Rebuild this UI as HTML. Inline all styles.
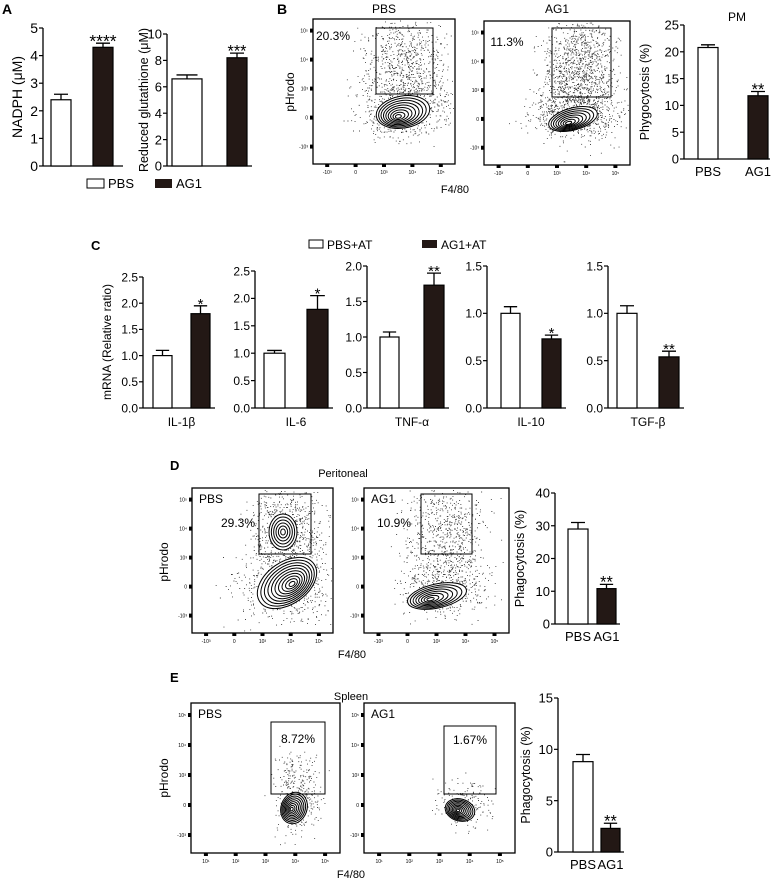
<!DOCTYPE html>
<html><head><meta charset="utf-8"><style>
body{margin:0;background:#fff}
svg{display:block;font-family:"Liberation Sans",sans-serif}
</style></head><body>
<svg id="fig" width="780" height="884" viewBox="0 0 780 884" xmlns="http://www.w3.org/2000/svg">
<g id="static" fill="#000">
<text x="2" y="14" font-size="14" font-weight="bold">A</text>
<text x="277" y="14" font-size="14" font-weight="bold">B</text>
<text x="91" y="250" font-size="13" font-weight="bold">C</text>
<text x="170" y="470" font-size="13" font-weight="bold">D</text>
<text x="170" y="682" font-size="13" font-weight="bold">E</text>
<g>
<rect x="87" y="179" width="17" height="9" fill="#fff" stroke="#000" stroke-width="1"/>
<text x="108" y="188" font-size="13">PBS</text>
<rect x="155" y="179" width="17" height="9" fill="#231815"/>
<text x="176" y="188" font-size="13">AG1</text>
</g>
<g>
<rect x="309" y="240" width="14" height="8" fill="#fff" stroke="#000"/>
<text x="327" y="249" font-size="12">PBS+AT</text>
<rect x="422" y="240" width="15" height="8" fill="#231815"/>
<text x="441" y="249" font-size="12">AG1+AT</text>
</g>
<text x="384" y="13" font-size="12" text-anchor="middle">PBS</text>
<text x="557" y="13" font-size="12" text-anchor="middle">AG1</text>
<text x="737" y="21" font-size="12" text-anchor="middle">PM</text>
<text x="455" y="193" font-size="11" text-anchor="middle">F4/80</text>
<text transform="translate(294,92) rotate(-90)" font-size="12" text-anchor="middle">pHrodo</text>
<text x="343" y="477" font-size="11" text-anchor="middle">Peritoneal</text>
<text x="352" y="658" font-size="11" text-anchor="middle">F4/80</text>
<text transform="translate(168,562) rotate(-90)" font-size="12" text-anchor="middle">pHrodo</text>
<text x="351" y="700" font-size="11" text-anchor="middle">Spleen</text>
<text x="351" y="878" font-size="11" text-anchor="middle">F4/80</text>
<text transform="translate(168,778) rotate(-90)" font-size="12" text-anchor="middle">pHrodo</text>
<text transform="translate(111,342) rotate(-90)" font-size="12" text-anchor="middle">mRNA (Relative ratio)</text>
</g>
</svg>
<script>
// ---- data ----
var groupsAB = ["PBS", "AG1"];
var nadphVals = [2.4, 4.3];
var nadphErrs = [0.2, 0.15];
var nadphStars = ["", "****"];
var gshVals = [6.6, 8.2];
var gshErrs = [0.3, 0.35];
var gshStars = ["", "***"];
var pmVals = [20.8, 11.8];
var pmErrs = [0.5, 0.8];
var pmStars = ["", "**"];
var genesC = ["IL-1β", "IL-6", "TNF-α", "IL-10", "TGF-β"];
var pbsAtVals = [1.0, 1.0, 1.0, 1.0, 1.0];
var pbsAtErrs = [0.1, 0.05, 0.07, 0.07, 0.08];
var ag1AtVals = [1.8, 1.8, 1.73, 0.73, 0.54];
var ag1AtErrs = [0.15, 0.25, 0.17, 0.04, 0.06];
var starsC = ["*", "*", "**", "*", "**"];
var cMax = [2.5, 2.5, 2.0, 1.5, 1.5];
var periVals = [29, 10.8];
var periErrs = [2, 1.3];
var periStars = ["", "**"];
var spleenVals = [8.8, 2.3];
var spleenErrs = [0.7, 0.5];
var spleenStars = ["", "**"];
var gatePercents = ["20.3%", "11.3%", "29.3%", "10.9%", "8.72%", "1.67%"];

var NS = "http://www.w3.org/2000/svg";
var svg = document.getElementById("fig");
function el(tag, attrs, parent) {
  var e = document.createElementNS(NS, tag);
  for (var k in attrs) e.setAttribute(k, attrs[k]);
  (parent || svg).appendChild(e);
  return e;
}
function txt(s, attrs, parent) { var t = el("text", attrs, parent); t.textContent = s; return t; }

function barChart(name, o, cats, vals, errs, stars) {
  var g = el("g", {});
  
  
  function y(v) { return o.y0 - v / o.max * (o.y0 - o.yTop); }
  var ax = el("line", {x1:o.ax, y1:o.yTop, x2:o.ax, y2:o.y0, stroke:"#000", "stroke-width":1.3}, g);
  
  
  var bl = el("line", {x1:o.ax, y1:o.y0, x2:o.right, y2:o.y0, stroke:"#000", "stroke-width":1.3}, g);
  
  
  for (var t = 0; t <= o.max + 1e-9; t += o.step) {
    var yy = y(t);
    el("line", {x1:o.ax - 4, y1:yy, x2:o.ax, y2:yy, stroke:"#000", "stroke-width":1.2}, g);
    var lab = txt(o.dec ? t.toFixed(1) : String(Math.round(t)), {x:o.ax - 5, y:yy + o.fs * 0.36, "font-size":o.fs, "text-anchor":"end"}, g);
    
    
  }
  for (var i = 0; i < vals.length; i++) {
    var x1 = o.bx[i][0], x2 = o.bx[i][1], w = x2 - x1, cx = (x1 + x2) / 2;
    var top = y(vals[i]), et = y(vals[i] + errs[i]);
    var r = el("rect", {x:x1, y:top, width:w, height:o.y0 - top, fill:(i % 2 ? "#231815" : "#fff"), stroke:"#000", "stroke-width":1.2}, g);
    
    
    var eb = el("path", {d:"M" + cx + " " + top + "V" + et + "M" + (cx - w * 0.35) + " " + et + "H" + (cx + w * 0.35), stroke:"#000", "stroke-width":1.3, fill:"none"}, g);
    
    
    if (stars[i]) {
      var sfs = o.fs * 1.25;
      var s = txt(stars[i], {x:cx, y:et - 2 + sfs * 0.33, "font-size":sfs, "text-anchor":"middle"}, g);
      
      
    }
    if (o.xlab) {
      var xl = txt(cats[i], {x:cx, y:o.y0 + o.fs + 4, "font-size":o.fs, "text-anchor":"middle"}, g);
      
      
    }
  }
  if (o.ylab) {
    var yl = txt(o.ylab, {transform:"translate(" + o.ylx + "," + ((o.y0 + o.yTop) / 2) + ") rotate(-90)", "font-size":o.yfs || o.fs, "text-anchor":"middle"}, g);
    
    
  }
  return g;
}

barChart("nadph-chart", {ax:43, yTop:28, y0:166, max:5, step:1, fs:14, bx:[[51,71],[93,113]], right:123, ylab:"NADPH (μM)", ylx:22}, groupsAB, nadphVals, nadphErrs, nadphStars);
barChart("glutathione-chart", {ax:167, yTop:34, y0:166, max:10, step:2, fs:13, bx:[[172,202],[227,247]], right:252, ylab:"Reduced glutathione (μM)", ylx:148, yfs:12.5}, groupsAB, gshVals, gshErrs, gshStars);
barChart("pm-chart", {ax:684, yTop:25, y0:159, max:25, step:5, fs:13, bx:[[698,718],[748,768]], right:770, ylab:"Phygocytosis (%)", ylx:649, yfs:12.5, xlab:true}, groupsAB, pmVals, pmErrs, pmStars);

var cAxes = [143, 255, 367, 487, 608];
var cTops = [277, 271, 266, 266, 266];
var cBx = [[[153,172],[191,210]], [[264,285],[307,328]], [[380,399],[424,444]], [[501,520],[542,561]], [[617,637],[659,679]]];
for (var k = 0; k < genesC.length; k++) {
  var g = barChart("mrna-chart-" + (k + 1), {ax:cAxes[k], yTop:cTops[k], y0:408, max:cMax[k], step:0.5, dec:true, fs:12, bx:cBx[k], right:cBx[k][1][1] + 5}, ["pbs-at", "ag1-at"], [pbsAtVals[k], ag1AtVals[k]], [pbsAtErrs[k], ag1AtErrs[k]], ["", starsC[k]]);
  var gl = txt(genesC[k], {x:(cBx[k][0][0] + cBx[k][1][1]) / 2, y:426, "font-size":12, "text-anchor":"middle"}, g);
  
  
}
barChart("peritoneal-chart", {ax:555, yTop:493, y0:624, max:40, step:10, fs:13, bx:[[568,588],[597,616]], right:620, ylab:"Phagocytosis (%)", ylx:524, yfs:12.5, xlab:true}, groupsAB, periVals, periErrs, periStars);
barChart("spleen-chart", {ax:558, yTop:698, y0:852, max:15, step:5, fs:13, bx:[[573,593],[601,620]], right:624, ylab:"Phagocytosis (%)", ylx:530, yfs:12.5, xlab:true}, groupsAB, spleenVals, spleenErrs, spleenStars);

// ---- flow cytometry plots (decorative) ----
var seed = 12345;
function rnd() { seed = (seed * 1103515245 + 12345) % 2147483648; return seed / 2147483648; }
function gauss() { return (rnd() + rnd() + rnd() - 1.5) / 0.5; }
function flow(name, f) {
  var g = el("g", {});
  
  
  var fr = el("rect", {x:f.x1, y:f.y1, width:f.x2 - f.x1, height:f.y2 - f.y1, fill:"none", stroke:"#000", "stroke-width":1.3}, g);
  
  
  var h = f.y2 - f.y1, w = f.x2 - f.x1;
  var yl = ["10⁵", "10⁴", "10³", "0", "-10³"];
  for (var i = 0; i < 5; i++) {
    var yy = f.y1 + h * (0.08 + i * 0.2);
    el("rect", {x:f.x1 - 3, y:yy - 2, width:3, height:4, fill:"#000"}, g);
    txt(yl[i], {x:f.x1 - 5, y:yy + 2, "font-size":5, "text-anchor":"end"}, g);
  }
  var xl = f.xl;
  for (var i = 0; i < xl.length; i++) {
    var xx = f.x1 + w * (0.1 + i * 0.2);
    el("rect", {x:xx - 2, y:f.y2, width:4, height:3, fill:"#000"}, g);
    txt(xl[i], {x:xx, y:f.y2 + 10, "font-size":5, "text-anchor":"middle"}, g);
  }
  var d = "";
  f.clouds.forEach(function (c) {
    for (var n = 0; n < c.n; n++) {
      var px = c.cx + gauss() * c.sx, py = c.cy + gauss() * c.sy;
      if (px < f.x1 + 2 || px > f.x2 - 2 || py < f.y1 + 2 || py > f.y2 - 2) continue;
      d += "M" + px.toFixed(1) + " " + py.toFixed(1) + "h0.9";
    }
  });
  var dots = el("path", {d:d, stroke:"#333", "stroke-width":0.9, fill:"none"}, g);
  
  
  f.blobs.forEach(function (b) {
    el("ellipse", {cx:b.cx, cy:b.cy, rx:b.rx, ry:b.ry, transform:"rotate(" + b.rot + " " + b.cx + " " + b.cy + ")", fill:"#fff", stroke:"#000", "stroke-width":1}, g);
    for (var r = 1; r < b.k; r++) {
      var s = r / b.k;
      el("ellipse", {cx:b.cx - (1 - s) * b.dx, cy:b.cy + (1 - s) * b.dy, rx:b.rx * s, ry:b.ry * s, transform:"rotate(" + b.rot + " " + b.cx + " " + b.cy + ")", fill:"none", stroke:"#000", "stroke-width":1}, g);
    }
  });
  var gt = el("rect", {x:f.gate[0], y:f.gate[1], width:f.gate[2] - f.gate[0], height:f.gate[3] - f.gate[1], fill:"none", stroke:"#000", "stroke-width":1}, g);
  
  
  var pt = txt(f.pct, {x:f.px, y:f.py, "font-size":12, "text-anchor":"middle"}, g);
  
  
  if (f.label) {
    var lb = txt(f.label, {x:f.x1 + 7, y:f.y1 + 15, "font-size":12}, g);
    
    
  }
}
var xlB = ["-10³", "0", "10³", "10⁴", "10⁵"];
var xlE = ["10¹", "10²", "10³", "10⁴", "10⁵"];
flow("flow-b-pbs", {x1:313, y1:19, x2:455, y2:164, xl:xlB, gate:[376,28,433,94], pct:gatePercents[0], px:333, py:40,
  clouds:[{cx:405, cy:65, sx:20, sy:30, n:900}, {cx:405, cy:110, sx:25, sy:14, n:500}],
  blobs:[{cx:403, cy:112, rx:27, ry:16, rot:-10, k:9, dx:6, dy:4}]});
flow("flow-b-ag1", {x1:484, y1:21, x2:630, y2:165, xl:xlB, gate:[552,28,611,97], pct:gatePercents[1], px:507, py:46,
  clouds:[{cx:580, cy:75, sx:18, sy:30, n:1300}, {cx:575, cy:115, sx:24, sy:12, n:500}],
  blobs:[{cx:573, cy:119, rx:25, ry:11, rot:-15, k:8, dx:6, dy:3}]});
flow("flow-d-pbs", {x1:192, y1:488, x2:333, y2:633, xl:xlB, gate:[259,494,311,554], pct:gatePercents[2], px:238, py:527, label:"PBS",
  clouds:[{cx:287, cy:530, sx:18, sy:20, n:700}, {cx:287, cy:585, sx:25, sy:22, n:600}],
  blobs:[{cx:283, cy:532, rx:14, ry:18, rot:0, k:6, dx:0, dy:0}, {cx:287, cy:583, rx:33, ry:21, rot:-35, k:10, dx:-4, dy:4}]});
flow("flow-d-ag1", {x1:364, y1:488, x2:509, y2:633, xl:xlB, gate:[421,494,472,554], pct:gatePercents[3], px:394, py:527, label:"AG1",
  clouds:[{cx:446, cy:540, sx:20, sy:30, n:800}, {cx:445, cy:590, sx:22, sy:13, n:400}],
  blobs:[{cx:437, cy:596, rx:30, ry:12, rot:-12, k:8, dx:8, dy:2}]});
flow("flow-e-pbs", {x1:191, y1:703, x2:340, y2:853, xl:xlE, gate:[271,722,325,794], pct:gatePercents[4], px:298, py:743, label:"PBS",
  clouds:[{cx:297, cy:795, sx:12, sy:20, n:350}],
  blobs:[{cx:294, cy:808, rx:13, ry:16, rot:20, k:9, dx:2, dy:2}]});
flow("flow-e-ag1", {x1:364, y1:703, x2:515, y2:853, xl:xlE, gate:[444,726,496,794], pct:gatePercents[5], px:470, py:744, label:"AG1",
  clouds:[{cx:465, cy:805, sx:14, sy:12, n:200}],
  blobs:[{cx:460, cy:810, rx:15, ry:11, rot:15, k:9, dx:2, dy:1}]});
</script>
</body></html>
